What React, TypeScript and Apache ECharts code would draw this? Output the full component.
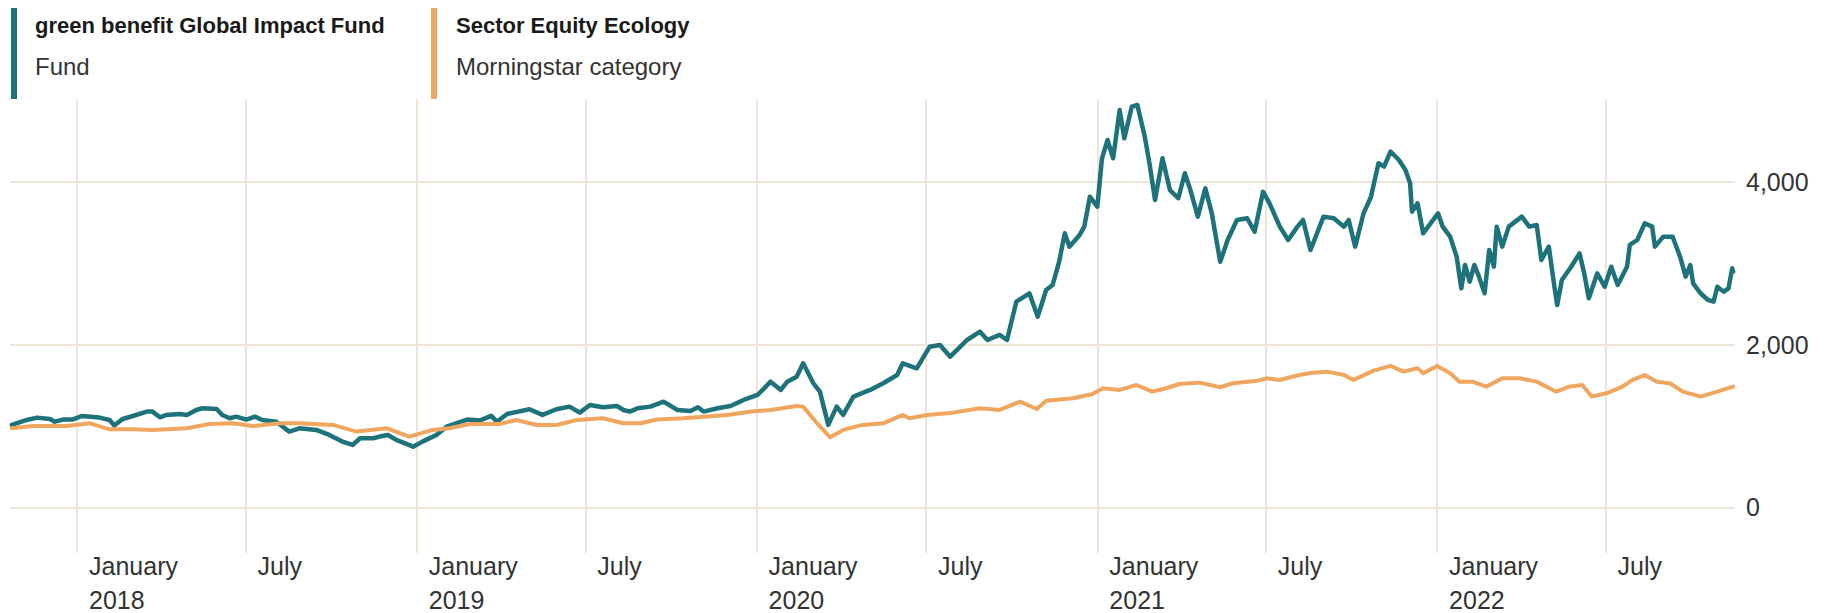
import React, { useEffect, useRef } from 'react';
import * as echarts from 'echarts';

const fundName = 'green benefit Global Impact Fund';
const fundSub = 'Fund';
const categoryName = 'Sector Equity Ecology';
const categorySub = 'Morningstar category';

const teal = '#1e7279';
const orange = '#f0a65e';
const gridColor = '#eee5d9';

const xMin = '2017-10-21';
const xMax = '2022-11-17';
const xTicks = [
  '2018-01-01', '2018-07-01', '2019-01-01', '2019-07-01', '2020-01-01',
  '2020-07-01', '2021-01-01', '2021-07-01', '2022-01-01', '2022-07-01',
];
const yTicks = [0, 2000, 4000];
const yMin = -560;
const yMax = 5020;

const fundPoints: [string, number][] = [
  ['2017-10-23', 1014], ['2017-11-08', 1075], ['2017-11-19', 1104], ['2017-12-03', 1087],
  ['2017-12-08', 1054], ['2017-12-17', 1080], ['2017-12-27', 1080], ['2018-01-06', 1124],
  ['2018-01-25', 1104], ['2018-02-05', 1075], ['2018-02-10', 1006], ['2018-02-19', 1087],
  ['2018-03-02', 1124], ['2018-03-17', 1178], ['2018-03-23', 1178], ['2018-03-31', 1108],
  ['2018-04-07', 1137], ['2018-04-21', 1149], ['2018-04-29', 1137], ['2018-05-09', 1198],
  ['2018-05-16', 1219], ['2018-05-31', 1210], ['2018-06-06', 1137], ['2018-06-14', 1096],
  ['2018-06-21', 1116], ['2018-07-02', 1080], ['2018-07-11', 1116], ['2018-07-19', 1075],
  ['2018-08-03', 1054], ['2018-08-17', 932], ['2018-08-28', 973], ['2018-09-15', 953],
  ['2018-09-29', 891], ['2018-10-13', 809], ['2018-10-24', 768], ['2018-11-01', 850],
  ['2018-11-15', 850], ['2018-11-22', 871], ['2018-12-01', 891], ['2018-12-10', 830],
  ['2018-12-28', 747], ['2019-01-07', 809], ['2019-01-22', 891], ['2019-02-02', 993],
  ['2019-02-24', 1080], ['2019-03-10', 1070], ['2019-03-22', 1125], ['2019-03-28', 1054],
  ['2019-04-08', 1149], ['2019-05-02', 1207], ['2019-05-16', 1137], ['2019-05-31', 1207],
  ['2019-06-14', 1239], ['2019-06-25', 1165], ['2019-07-06', 1260], ['2019-07-20', 1231],
  ['2019-08-04', 1247], ['2019-08-11', 1198], ['2019-08-18', 1178], ['2019-08-26', 1219],
  ['2019-09-09', 1239], ['2019-09-23', 1300], ['2019-10-08', 1198], ['2019-10-22', 1186],
  ['2019-10-30', 1231], ['2019-11-05', 1178], ['2019-11-20', 1219], ['2019-12-04', 1247],
  ['2019-12-18', 1321], ['2020-01-02', 1382], ['2020-01-16', 1546], ['2020-01-27', 1444],
  ['2020-02-03', 1546], ['2020-02-13', 1607], ['2020-02-20', 1772], ['2020-03-02', 1526],
  ['2020-03-09', 1423], ['2020-03-18', 1014], ['2020-03-27', 1239], ['2020-04-03', 1137],
  ['2020-04-14', 1362], ['2020-05-02', 1444], ['2020-05-16', 1526], ['2020-05-31', 1628],
  ['2020-06-06', 1772], ['2020-06-21', 1710], ['2020-07-05', 1976], ['2020-07-16', 1997],
  ['2020-07-27', 1853], ['2020-08-14', 2058], ['2020-08-28', 2160], ['2020-09-05', 2058],
  ['2020-09-18', 2120], ['2020-09-26', 2058], ['2020-10-06', 2529], ['2020-10-20', 2632],
  ['2020-10-29', 2345], ['2020-11-07', 2673], ['2020-11-14', 2734], ['2020-11-21', 3020],
  ['2020-11-27', 3369], ['2020-12-02', 3205], ['2020-12-13', 3349], ['2020-12-18', 3451],
  ['2020-12-24', 3819], ['2021-01-01', 3696], ['2021-01-06', 4291], ['2021-01-12', 4516],
  ['2021-01-18', 4291], ['2021-01-25', 4884], ['2021-01-30', 4537], ['2021-02-07', 4925],
  ['2021-02-13', 4946], ['2021-02-21', 4557], ['2021-02-26', 4230], ['2021-03-04', 3779],
  ['2021-03-12', 4291], ['2021-03-20', 3901], ['2021-03-29', 3800], ['2021-04-05', 4107],
  ['2021-04-11', 3901], ['2021-04-19', 3574], ['2021-04-27', 3922], ['2021-05-04', 3615],
  ['2021-05-13', 3020], ['2021-05-21', 3287], ['2021-05-31', 3533], ['2021-06-11', 3554],
  ['2021-06-19', 3389], ['2021-06-28', 3881], ['2021-07-05', 3738], ['2021-07-16', 3451],
  ['2021-07-25', 3287], ['2021-08-04', 3451], ['2021-08-10', 3533], ['2021-08-18', 3164],
  ['2021-09-01', 3574], ['2021-09-12', 3554], ['2021-09-23', 3451], ['2021-09-28', 3533],
  ['2021-10-05', 3205], ['2021-10-14', 3615], ['2021-10-22', 3819], ['2021-10-30', 4230],
  ['2021-11-05', 4188], ['2021-11-12', 4373], ['2021-11-21', 4270], ['2021-11-28', 4147],
  ['2021-12-03', 3984], ['2021-12-05', 3635], ['2021-12-11', 3738], ['2021-12-17', 3369],
  ['2021-12-25', 3492], ['2022-01-02', 3615], ['2022-01-07', 3451], ['2022-01-15', 3328],
  ['2022-01-22', 3082], ['2022-01-27', 2693], ['2022-01-31', 2980], ['2022-02-05', 2775],
  ['2022-02-10', 2980], ['2022-02-15', 2836], ['2022-02-21', 2632], ['2022-02-26', 3164],
  ['2022-03-03', 2959], ['2022-03-06', 3451], ['2022-03-12', 3205], ['2022-03-19', 3451],
  ['2022-04-02', 3574], ['2022-04-10', 3451], ['2022-04-18', 3472], ['2022-04-23', 3041],
  ['2022-05-01', 3205], ['2022-05-07', 2713], ['2022-05-10', 2488], ['2022-05-15', 2795],
  ['2022-05-25', 2959], ['2022-06-03', 3123], ['2022-06-08', 2877], ['2022-06-13', 2570],
  ['2022-06-22', 2877], ['2022-06-30', 2713], ['2022-07-07', 2959], ['2022-07-14', 2734],
  ['2022-07-24', 2959], ['2022-07-27', 3226], ['2022-08-04', 3287], ['2022-08-12', 3492],
  ['2022-08-20', 3451], ['2022-08-23', 3205], ['2022-09-01', 3328], ['2022-09-11', 3328],
  ['2022-09-19', 3082], ['2022-09-25', 2836], ['2022-09-30', 2980], ['2022-10-03', 2755],
  ['2022-10-11', 2632], ['2022-10-19', 2550], ['2022-10-25', 2529], ['2022-10-29', 2713],
  ['2022-11-05', 2652], ['2022-11-10', 2693], ['2022-11-14', 2939], ['2022-11-15', 2898],
];

const categoryPoints: [string, number][] = [
  ['2017-10-23', 973], ['2017-11-15', 1000], ['2017-12-21', 1000], ['2018-01-15', 1034],
  ['2018-02-05', 960], ['2018-03-02', 960], ['2018-03-23', 953], ['2018-04-29', 973],
  ['2018-05-23', 1026], ['2018-06-17', 1034], ['2018-07-09', 1000], ['2018-08-07', 1034],
  ['2018-08-28', 1034], ['2018-10-03', 1014], ['2018-10-28', 932], ['2018-11-30', 973],
  ['2018-12-24', 870], ['2019-01-18', 953], ['2019-02-05', 973], ['2019-02-27', 1026],
  ['2019-03-31', 1026], ['2019-04-18', 1075], ['2019-05-10', 1014], ['2019-05-31', 1014],
  ['2019-06-22', 1075], ['2019-07-20', 1096], ['2019-08-11', 1034], ['2019-08-29', 1034],
  ['2019-09-16', 1080], ['2019-10-14', 1096], ['2019-11-05', 1116], ['2019-12-01', 1137],
  ['2019-12-26', 1178], ['2020-01-16', 1198], ['2020-02-13', 1247], ['2020-02-20', 1239],
  ['2020-03-06', 1034], ['2020-03-20', 862], ['2020-04-03', 953], ['2020-04-24', 1014],
  ['2020-05-16', 1034], ['2020-06-06', 1137], ['2020-06-13', 1096], ['2020-07-02', 1137],
  ['2020-07-30', 1165], ['2020-08-28', 1219], ['2020-09-18', 1198], ['2020-10-10', 1300],
  ['2020-10-28', 1210], ['2020-11-07', 1312], ['2020-12-06', 1342], ['2020-12-27', 1395],
  ['2021-01-07', 1465], ['2021-01-25', 1444], ['2021-02-12', 1505], ['2021-03-01', 1423],
  ['2021-03-16', 1465], ['2021-03-30', 1517], ['2021-04-21', 1534], ['2021-05-13', 1477],
  ['2021-05-27', 1526], ['2021-06-22', 1558], ['2021-07-02', 1587], ['2021-07-16', 1567],
  ['2021-08-06', 1628], ['2021-08-20', 1656], ['2021-09-05', 1669], ['2021-09-23', 1628],
  ['2021-10-03', 1567], ['2021-10-25', 1681], ['2021-11-12', 1739], ['2021-11-26', 1669],
  ['2021-12-11', 1710], ['2021-12-17', 1649], ['2022-01-01', 1739], ['2022-01-15', 1649],
  ['2022-01-25', 1546], ['2022-02-08', 1546], ['2022-02-23', 1485], ['2022-03-12', 1587],
  ['2022-03-31', 1587], ['2022-04-18', 1546], ['2022-05-09', 1423], ['2022-05-23', 1485],
  ['2022-06-06', 1505], ['2022-06-16', 1362], ['2022-07-02', 1403], ['2022-07-19', 1485],
  ['2022-07-30', 1567], ['2022-08-12', 1628], ['2022-08-25', 1546], ['2022-09-08', 1526],
  ['2022-09-22', 1423], ['2022-10-11', 1362], ['2022-10-29', 1423], ['2022-11-15', 1485],
];

function toTime(s: string): number {
  const [y, m, d] = s.split('-').map(Number);
  return new Date(y, m - 1, d).getTime();
}

const axisFont = '"Liberation Sans", Arial, sans-serif';

export default function App() {
  const ref = useRef<HTMLDivElement>(null);

  useEffect(() => {
    if (!ref.current) return;
    const chart = echarts.init(ref.current, null, { renderer: 'svg' });
    const xTickTimes = xTicks.map(toTime);
    chart.setOption({
      animation: false,
      backgroundColor: '#ffffff',
      grid: { left: 10, right: 98, top: 99, bottom: 60, containLabel: false, outerBoundsMode: 'none' },
      xAxis: {
        type: 'value',
        min: toTime(xMin),
        max: toTime(xMax),
        axisLine: { show: false },
        axisTick: { show: false, customValues: xTickTimes },
        axisLabel: {
          customValues: xTickTimes,
          formatter: (val: number) => {
            const d = new Date(val);
            return d.getMonth() === 0 ? `January\n${d.getFullYear()}` : 'July';
          },
          align: 'left',
          padding: [0, 0, 0, 12],
          margin: -4,
          fontSize: 25,
          lineHeight: 34,
          color: '#333333',
          fontFamily: axisFont,
        },
        splitLine: { show: true, lineStyle: { color: gridColor, width: 2 } },
      },
      yAxis: {
        type: 'value',
        position: 'right',
        min: yMin,
        max: yMax,
        axisLine: { show: false },
        axisTick: { show: false, customValues: yTicks },
        axisLabel: {
          customValues: yTicks,
          formatter: (v: number) => v.toLocaleString('en-US'),
          margin: 11,
          fontSize: 25,
          color: '#333333',
          fontFamily: axisFont,
        },
        splitLine: { show: true, lineStyle: { color: gridColor, width: 2 } },
      },
      graphic: [
        { type: 'rect', shape: { x: 11, y: 8, width: 6, height: 91 }, style: { fill: teal } },
        {
          type: 'text', x: 35, y: 25,
          style: { text: fundName, font: `bold 22px ${axisFont}`, fill: '#1a1a1a', verticalAlign: 'middle' },
        },
        {
          type: 'text', x: 35, y: 66,
          style: { text: fundSub, font: `24px ${axisFont}`, fill: '#333333', verticalAlign: 'middle' },
        },
        { type: 'rect', shape: { x: 431, y: 8, width: 6, height: 91 }, style: { fill: orange } },
        {
          type: 'text', x: 456, y: 25,
          style: { text: categoryName, font: `bold 22px ${axisFont}`, fill: '#1a1a1a', verticalAlign: 'middle' },
        },
        {
          type: 'text', x: 456, y: 66,
          style: { text: categorySub, font: `24px ${axisFont}`, fill: '#333333', verticalAlign: 'middle' },
        },
      ],
      series: [
        {
          name: fundName,
          type: 'line',
          showSymbol: false,
          symbol: 'none',
          lineStyle: { color: teal, width: 4.5, join: 'round', cap: 'round' },
          itemStyle: { color: teal },
          data: fundPoints.map(([d, v]) => [toTime(d), v]),
          z: 2,
        },
        {
          name: categoryName,
          type: 'line',
          showSymbol: false,
          symbol: 'none',
          lineStyle: { color: orange, width: 4, join: 'round', cap: 'round' },
          itemStyle: { color: orange },
          data: categoryPoints.map(([d, v]) => [toTime(d), v]),
          z: 3,
        },
      ],
    });
    return () => chart.dispose();
  }, []);

  return (
    <div
      ref={ref}
      style={{ position: 'fixed', left: 0, top: 0, width: 1833, height: 613, background: '#fff' }}
    />
  );
}
